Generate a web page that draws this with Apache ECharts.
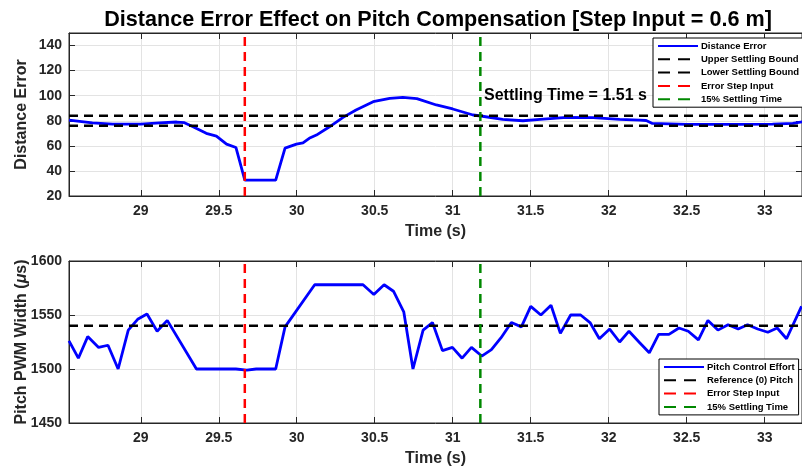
<!DOCTYPE html>
<html>
<head>
<meta charset="utf-8">
<script src="https://cdn.jsdelivr.net/npm/echarts@6/dist/echarts.min.js"></script>
<style>
  html, body { margin: 0; padding: 0; background: #fff; }
  #chart { width: 802px; height: 468px; }
</style>
</head>
<body>
<div id="chart"></div>
<script>
/* -------------------------------------------------------------------------- */
/* Data */
var errTime = [28.54, 28.69, 28.82, 29.0, 29.12, 29.23, 29.28, 29.335, 29.42, 29.485, 29.55, 29.61,
  29.667, 29.865, 29.925, 29.998, 30.04, 30.08, 30.126, 30.21, 30.297, 30.38, 30.49, 30.596, 30.68,
  30.77, 30.895, 31.0, 31.13, 31.18, 31.32, 31.45, 31.56, 31.73, 31.9, 32.07, 32.2, 32.24, 32.28,
  32.5, 32.84, 33.05, 33.18, 33.24];
var errValues = [80.5, 78.4, 77.4, 77.4, 78.4, 79, 78.5, 75.2, 70, 67.8, 61.4, 58.7,
  32.6, 32.6, 58.2, 61.4, 62.4, 66.0, 68.6, 75.2, 82.7, 88.6, 95.2, 97.9, 98.7,
  97.6, 92.6, 89.4, 84.6, 83.8, 81.1, 80, 81.1, 82.7, 82.5, 81.1, 80.5, 80.2, 77.9,
  77.1, 77.1, 77.4, 78, 79.2];

var pwmTime = [28.54, 28.6, 28.66, 28.73, 28.79, 28.855, 28.92, 28.98, 29.04, 29.105, 29.17, 29.357,
  29.61, 29.68, 29.74, 29.865, 29.925, 30.115, 30.425, 30.494, 30.56, 30.62, 30.686, 30.745,
  30.81, 30.87, 30.934, 30.998, 31.06, 31.12, 31.186, 31.248, 31.31, 31.376, 31.44, 31.5,
  31.565, 31.63, 31.69, 31.756, 31.82, 31.88, 31.94, 32.006, 32.07, 32.13, 32.194, 32.26,
  32.32, 32.386, 32.45, 32.51, 32.575, 32.636, 32.7, 32.765, 32.83, 32.89, 32.955, 33.02,
  33.08, 33.14, 33.236];
var pwmValues = [1526, 1510, 1530, 1520, 1522, 1500, 1536, 1546, 1551, 1535, 1545, 1500,
  1500, 1499, 1500, 1500, 1539, 1578, 1578, 1569, 1578, 1572, 1553, 1500,
  1536, 1543, 1517, 1520, 1510, 1520, 1512, 1518, 1529, 1543, 1539, 1558,
  1550, 1559, 1533, 1550, 1550, 1543, 1528, 1537, 1525, 1535, 1525, 1515,
  1532, 1532, 1538, 1535, 1527, 1545, 1536, 1541, 1537, 1541, 1537, 1534,
  1538, 1528, 1558];

var stepTime = 29.667;
var settleTime = 31.177;
var settlingLabel = 'Settling Time = 1.51 s';
var upperBound = 84;
var lowerBound = 76;
var refPitch = 1540;

var xRange = [28.54, 33.239];
var xTicks = [29, 29.5, 30, 30.5, 31, 31.5, 32, 32.5, 33];
var errRange = [20, 150];
var pwmRange = [1450, 1600];

var topLegend = ['Distance Error', 'Upper Settling Bound', 'Lower Settling Bound', 'Error Step Input', '15% Settling Time'];
var bottomLegend = ['Pitch Control Effort', 'Reference (0) Pitch', 'Error Step Input', '15% Settling Time'];
/* -------------------------------------------------------------------------- */

var FONT = '"Liberation Sans", Arial, Helvetica, sans-serif';
var AXIS_COLOR = '#262626';
var GRID_COLOR = '#e3e3e3';
var DASH = [9, 6];
var LEGEND_DASH = [12, 8];

var zip = function (xs, ys) {
  return xs.map(function (x, i) { return [x, ys[i]]; });
};

var mainXAxis = function (gridIndex) {
  return {
    type: 'value',
    gridIndex: gridIndex,
    min: xRange[0],
    max: xRange[1],
    name: 'Time (s)',
    nameLocation: 'middle',
    nameGap: 28,
    nameTextStyle: { fontFamily: FONT, fontSize: 16, fontWeight: 'bold', color: AXIS_COLOR },
    axisLine: { lineStyle: { color: AXIS_COLOR, width: 1 } },
    axisTick: { inside: true, length: 6, customValues: xTicks, lineStyle: { color: AXIS_COLOR } },
    axisLabel: {
      customValues: xTicks, margin: 8,
      fontFamily: FONT, fontSize: 14, fontWeight: 'bold', color: AXIS_COLOR
    },
    splitLine: { show: true, customValues: xTicks, lineStyle: { color: GRID_COLOR, width: 1 } }
  };
};

var boxXAxis = function (gridIndex) {
  return {
    type: 'value',
    gridIndex: gridIndex,
    position: 'top',
    min: xRange[0],
    max: xRange[1],
    axisLine: { lineStyle: { color: AXIS_COLOR } },
    axisTick: { inside: true, length: 6, customValues: xTicks, lineStyle: { color: AXIS_COLOR } },
    axisLabel: { show: false },
    splitLine: { show: false }
  };
};

var mainYAxis = function (gridIndex, range, interval, name) {
  return {
    type: 'value',
    gridIndex: gridIndex,
    min: range[0],
    max: range[1],
    interval: interval,
    name: name,
    nameLocation: 'middle',
    nameGap: 39,
    nameMoveOverlap: false,
    nameTextStyle: {
      fontFamily: FONT, fontSize: 16, fontWeight: 'bold', color: AXIS_COLOR,
      rich: { i: { fontFamily: FONT, fontSize: 16, fontWeight: 'bold', fontStyle: 'italic', color: AXIS_COLOR } }
    },
    axisLine: { show: true, lineStyle: { color: AXIS_COLOR, width: 1 } },
    axisTick: { show: true, inside: true, length: 6, lineStyle: { color: AXIS_COLOR } },
    axisLabel: {
      margin: 7, showMaxLabel: range[1] % interval === 0,
      formatter: function (v) { return String(v); },
      fontFamily: FONT, fontSize: 14, fontWeight: 'bold', color: AXIS_COLOR
    },
    splitLine: { show: true, lineStyle: { color: GRID_COLOR, width: 1 } }
  };
};

var boxYAxis = function (gridIndex, range, interval) {
  return {
    type: 'value',
    gridIndex: gridIndex,
    position: 'right',
    min: range[0],
    max: range[1],
    interval: interval,
    axisLine: { show: true, lineStyle: { color: AXIS_COLOR } },
    axisTick: { show: true, inside: true, length: 6, lineStyle: { color: AXIS_COLOR } },
    axisLabel: { show: false },
    splitLine: { show: false }
  };
};

var lineSeries = function (name, xi, yi, data, color, dashed, width) {
  return {
    name: name,
    type: 'line',
    xAxisIndex: xi,
    yAxisIndex: yi,
    data: data,
    showSymbol: false,
    symbol: 'none',
    silent: true,
    lineStyle: { color: color, width: width || 2.5, type: dashed ? DASH : 'solid' },
    itemStyle: { color: color }
  };
};

var legendItems = function (names) {
  return names.map(function (n) {
    var item = { name: n, itemStyle: { opacity: 0 } };
    if (n !== 'Distance Error' && n !== 'Pitch Control Effort') {
      item.lineStyle = { type: LEGEND_DASH };
    }
    return item;
  });
};

var legendBase = function (left, top, names) {
  return {
    orient: 'vertical',
    left: left,
    top: top,
    padding: [3, 4, 3, 4],
    itemWidth: 40,
    itemHeight: 10,
    itemGap: 3.3,
    backgroundColor: '#fff',
    borderColor: '#000',
    borderWidth: 1,
    borderRadius: 0,
    selectedMode: false,
    itemStyle: { opacity: 0 },
    textStyle: { fontFamily: FONT, fontSize: 9.5, fontWeight: 'bold', color: '#000', padding: [0, 0, 0, -2] },
    data: legendItems(names)
  };
};

var chart = echarts.init(document.getElementById('chart'), null, { renderer: 'canvas' });

chart.setOption({
  animation: false,
  backgroundColor: '#fff',
  title: {
    text: 'Distance Error Effect on Pitch Compensation [Step Input = 0.6 m]',
    left: 433,
    textAlign: 'center',
    top: 4,
    textStyle: { fontFamily: FONT, fontSize: 21.6, fontWeight: 'bold', color: '#000' }
  },
  graphic: [{
    type: 'text',
    left: 484,
    top: 88,
    z: 100,
    style: { text: settlingLabel, fontFamily: FONT, fontSize: 16, fontWeight: 'bold', fill: '#000' }
  }],
  legend: [legendBase(653, 38, topLegend), legendBase(659, 359, bottomLegend)],
  grid: [
    { left: 69, right: 0, top: 33, height: 163, show: true, borderColor: AXIS_COLOR, borderWidth: 1, outerBoundsMode: 'none', containLabel: false },
    { left: 69, right: 0, top: 261, height: 162, show: true, borderColor: AXIS_COLOR, borderWidth: 1, outerBoundsMode: 'none', containLabel: false }
  ],
  xAxis: [mainXAxis(0), mainXAxis(1), boxXAxis(0), boxXAxis(1)],
  yAxis: [
    mainYAxis(0, errRange, 20, 'Distance Error'),
    mainYAxis(1, pwmRange, 50, 'Pitch PWM Width ({i|\u03bc}s)'),
    boxYAxis(0, errRange, 20),
    boxYAxis(1, pwmRange, 50)
  ],
  series: [
    lineSeries('Distance Error', 0, 0, zip(errTime, errValues), '#0000ff', false, 2.8),
    lineSeries('Upper Settling Bound', 0, 0, zip(xRange, [upperBound, upperBound]), '#000', true),
    lineSeries('Lower Settling Bound', 0, 0, zip(xRange, [lowerBound, lowerBound]), '#000', true),
    lineSeries('Error Step Input', 0, 0, zip([stepTime, stepTime], errRange), '#ff0000', true),
    lineSeries('15% Settling Time', 0, 0, zip([settleTime, settleTime], errRange), '#008800', true),

    lineSeries('Pitch Control Effort', 1, 1, zip(pwmTime, pwmValues), '#0000ff', false, 2.8),
    lineSeries('Reference (0) Pitch', 1, 1, zip(xRange, [refPitch, refPitch]), '#000', true),
    lineSeries('Error Step Input', 1, 1, zip([stepTime, stepTime], pwmRange), '#ff0000', true),
    lineSeries('15% Settling Time', 1, 1, zip([settleTime, settleTime], pwmRange), '#008800', true)
  ]
});
</script>
</body>
</html>
